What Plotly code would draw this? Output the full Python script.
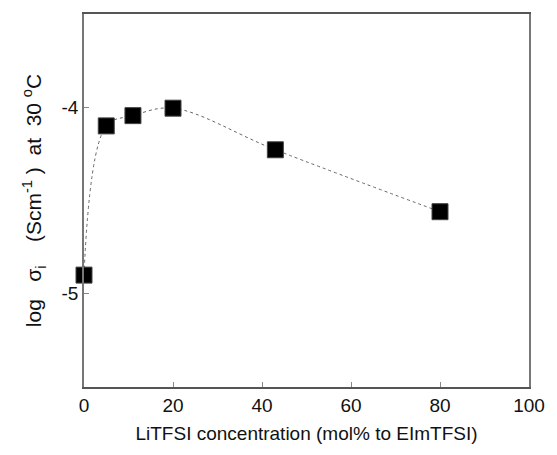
import plotly.graph_objects as go

conc = [0, 5, 11, 20, 43, 80]
log_sigma = [-4.90, -4.10, -4.045, -4.005, -4.228, -4.56]

x_ticks = [0, 20, 40, 60, 80, 100]
y_ticks = [-5, -4]

fig = go.Figure()
fig.add_trace(go.Scatter(
    x=conc, y=log_sigma, mode="lines",
    line=dict(shape="spline", smoothing=1.0, color="#666666", width=1, dash="dot"),
    hoverinfo="skip", showlegend=False))
fig.add_trace(go.Scatter(
    x=conc, y=log_sigma, mode="markers",
    marker=dict(symbol="square", size=16, color="black",
                line=dict(color="#444444", width=1)),
    showlegend=False, cliponaxis=False))

font = dict(family="Liberation Sans, Arial, sans-serif", size=19, color="#111111")
nb = "\u00a0"
ytitle = ("log" + nb * 3 + "σ<sub>i</sub>" + nb * 4 + "(Scm<sup>-1</sup>" + nb + ")"
          + nb * 2 + "at" + nb * 2 + "30" + nb + "<sup>o</sup>C")
fig.update_layout(
    width=557, height=455,
    margin=dict(l=84, r=20, t=12, b=68),
    paper_bgcolor="white", plot_bgcolor="white",
    font=font,
    xaxis=dict(range=[0, 100], tickvals=x_ticks, ticks="inside", ticklen=5,
               tickcolor="#888888", showline=True, linecolor="#555555", linewidth=1.5,
               mirror=True, showgrid=False, zeroline=False,
               title=dict(text="LiTFSI concentration (mol% to EImTFSI)", standoff=12,
                          font=dict(size=19)),
               tickfont=dict(size=19)),
    yaxis=dict(range=[-5.5, -3.5], tickvals=y_ticks, ticktext=["-5", "-4"],
               ticks="inside", ticklen=5, tickcolor="#888888",
               showline=True, linecolor="#777777", linewidth=1.5, mirror=True,
               showgrid=False, zeroline=False,
               title=dict(text=ytitle, standoff=14, font=dict(size=21)),
               tickfont=dict(size=19)),
)
fig.write_html("out.html")
